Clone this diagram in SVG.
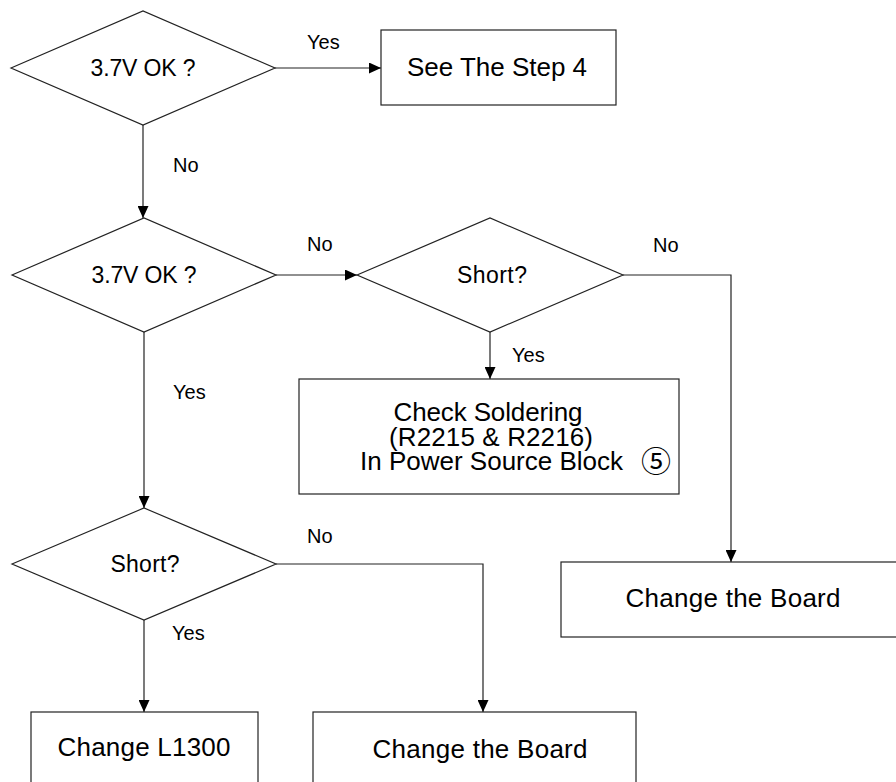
<svg xmlns="http://www.w3.org/2000/svg" width="896" height="782" viewBox="0 0 896 782">
<defs>
<marker id="arr" markerUnits="userSpaceOnUse" markerWidth="12" markerHeight="11" refX="12" refY="5.5" orient="auto">
<path d="M0,0 L12,5.5 L0,11 z" fill="#000"/>
</marker>
<style>
.shape{fill:#fff;stroke:#222;stroke-width:1.2}
.conn{fill:none;stroke:#222;stroke-width:1.2;marker-end:url(#arr)}
text{font-family:"Liberation Sans",Arial,sans-serif;fill:#000}
.dt{font-size:23px;text-anchor:middle}
.bt{font-size:26px;text-anchor:middle}
.lb{font-size:20px}
</style>
</defs>
<rect width="896" height="782" fill="#fff"/>
<g id="connectors">
<path class="conn" d="M275,68 L381,68"/>
<path class="conn" d="M143,125 L143,218"/>
<path class="conn" d="M276,275 L357,275"/>
<path class="conn" d="M623,275 L731,275 L731,562"/>
<path class="conn" d="M490,332 L490,379"/>
<path class="conn" d="M144,332 L144,508"/>
<path class="conn" d="M276,564 L483,564 L483,712"/>
<path class="conn" d="M144,620 L144,712"/>
<text class="lb" x="307" y="49">Yes</text>
<text class="lb" x="173" y="172">No</text>
<text class="lb" x="307" y="251">No</text>
<text class="lb" x="653" y="252">No</text>
<text class="lb" x="512" y="362">Yes</text>
<text class="lb" x="173" y="399">Yes</text>
<text class="lb" x="307" y="543">No</text>
<text class="lb" x="172" y="640">Yes</text>
</g>
<g id="d1">
<polygon class="shape" points="11,68 143,11 275,68 143,125"/>
<text class="dt" x="143" y="76" textLength="105">3.7V OK ?</text>
</g>
<g id="b1">
<rect class="shape" x="381" y="30" width="235" height="75"/>
<text class="bt" x="497" y="76" textLength="180">See The Step 4</text>
</g>
<g id="d2">
<polygon class="shape" points="12,275 144,218 276,275 144,332"/>
<text class="dt" x="144" y="283" textLength="105">3.7V OK ?</text>
</g>
<g id="d3">
<polygon class="shape" points="357,275 490,218 623,275 490,332"/>
<text class="dt" x="492" y="283" textLength="70">Short?</text>
</g>
<g id="b2">
<rect class="shape" x="299" y="379" width="380" height="115"/>
<text class="bt" x="488" y="421" textLength="189">Check Soldering</text>
<text class="bt" x="491" y="446" textLength="204">(R2215 &amp; R2216)</text>
<text x="360" y="470" font-size="26" textLength="263">In Power Source Block</text>
<text x="656" y="472" font-size="30" text-anchor="middle" style="font-family:'Noto Sans CJK SC','DejaVu Sans',sans-serif">⑤</text>
</g>
<g id="b3">
<rect class="shape" x="561" y="562" width="345" height="75"/>
<text class="bt" x="733" y="607" textLength="215">Change the Board</text>
</g>
<g id="d4">
<polygon class="shape" points="12,564 144,508 276,564 144,620"/>
<text class="dt" x="145" y="572" textLength="69">Short?</text>
</g>
<g id="b4">
<rect class="shape" x="31" y="712" width="227" height="90"/>
<text class="bt" x="144" y="756" textLength="173">Change L1300</text>
</g>
<g id="b5">
<rect class="shape" x="313" y="712" width="323" height="90"/>
<text class="bt" x="480" y="758" textLength="215">Change the Board</text>
</g>
</svg>
